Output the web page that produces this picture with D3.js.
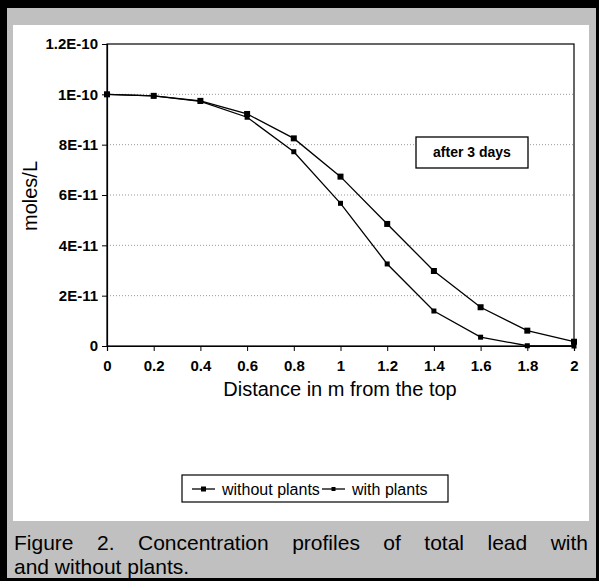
<!DOCTYPE html>
<html>
<head>
<meta charset="utf-8">
<script src="https://cdn.jsdelivr.net/npm/d3@7"></script>
<style>
  body { margin: 0; background: #fff; }
  text { font-family: "Liberation Sans", Arial, sans-serif; }
</style>
</head>
<body>
<div id="chart"></div>
<script>
var distance = [0, 0.2, 0.4, 0.6, 0.8, 1.0, 1.2, 1.4, 1.6, 1.8, 2.0]
var withoutPlants = [1.0e-10, 0.994e-10, 0.974e-10, 0.922e-10, 0.825e-10, 0.673e-10, 0.485e-10, 0.298e-10, 0.154e-10, 0.061e-10, 0.017e-10]
var withPlants = [1.0e-10, 0.994e-10, 0.972e-10, 0.909e-10, 0.772e-10, 0.567e-10, 0.326e-10, 0.139e-10, 0.035e-10, 0.001e-10, 0.0]
var yTicks = [0, 2e-11, 4e-11, 6e-11, 8e-11, 1e-10, 1.2e-10]
var yTickLabels = ["0", "2E-11", "4E-11", "6E-11", "8E-11", "1E-10", "1.2E-10"]
var xTicks = [0, 0.2, 0.4, 0.6, 0.8, 1, 1.2, 1.4, 1.6, 1.8, 2]
var seriesNames = ["without plants", "with plants"]
var captionLines = ["Figure 2. Concentration profiles of total lead with", "and without plants."]

var width = 599, height = 581
var svg = d3.select("#chart").append("svg")
  .attr("width", width).attr("height", height)

// frame: black edge, grey band, white chart area
svg.append("rect").attr("width", width).attr("height", height).attr("fill", "#000")
svg.append("rect").attr("x", 7).attr("y", 8).attr("width", 589).attr("height", 570).attr("fill", "#c0c0c0")
svg.append("rect").attr("x", 13).attr("y", 25).attr("width", 576).attr("height", 496).attr("fill", "#fff")

var x = d3.scaleLinear().domain([0, 2]).range([107, 574])
var y = d3.scaleLinear().domain([0, 1.2e-10]).range([346, 44])

// gridlines
svg.append("g").selectAll("line")
  .data(yTicks.slice(1, -1))
  .enter().append("line")
    .attr("x1", x(0)).attr("x2", x(2))
    .attr("y1", function (d) { return y(d) }).attr("y2", function (d) { return y(d) })
    .attr("stroke", "#999").attr("stroke-width", 1)
    .attr("stroke-dasharray", "1,2")

// plot border
svg.append("rect")
  .attr("x", x(0)).attr("y", y(1.2e-10))
  .attr("width", x(2) - x(0)).attr("height", y(0) - y(1.2e-10))
  .attr("fill", "none").attr("stroke", "#000").attr("stroke-width", 1.2)

var yAxis = d3.axisLeft(y).tickValues(yTicks).tickSize(5).tickPadding(4)
  .tickFormat(function (d, i) { return yTickLabels[i] })
var gy = svg.append("g").attr("transform", "translate(" + x(0) + ",0)").call(yAxis)
gy.select(".domain").attr("stroke", "#000").attr("stroke-width", 1.2)
gy.selectAll("text").attr("font-size", 15).attr("font-weight", "bold").attr("fill", "#000")
  .style("font-family", '"Liberation Sans", Arial, sans-serif')

var xAxis = d3.axisBottom(x).tickValues(xTicks).tickSize(5).tickPadding(9)
  .tickFormat(function (d) { return d3.format("~g")(d) })
var gx = svg.append("g").attr("transform", "translate(0," + y(0) + ")").call(xAxis)
gx.select(".domain").attr("stroke", "#000").attr("stroke-width", 1.2)
gx.selectAll("text").attr("font-size", 15).attr("font-weight", "bold").attr("fill", "#000")
  .style("font-family", '"Liberation Sans", Arial, sans-serif')

// axis titles
svg.append("text")
  .attr("x", 340).attr("y", 396)
  .attr("text-anchor", "middle").attr("font-size", 20)
  .text("Distance in m from the top")
svg.append("text")
  .attr("transform", "translate(37,196) rotate(-90)")
  .attr("text-anchor", "middle").attr("font-size", 20)
  .text("moles/L")

// series lines and markers
var series = [withoutPlants, withPlants]
var line = d3.line()
  .x(function (d, i) { return x(distance[i]) })
  .y(function (d) { return y(d) })
series.forEach(function (values, s) {
  svg.append("path")
    .datum(values)
    .attr("d", line)
    .attr("fill", "none").attr("stroke", "#000").attr("stroke-width", 1.3)
  var size = s === 0 ? 6 : 5
  svg.append("g").selectAll("rect")
    .data(values)
    .enter().append("rect")
      .attr("x", function (d, i) { return x(distance[i]) - size / 2 })
      .attr("y", function (d) { return y(d) - size / 2 })
      .attr("width", size).attr("height", size)
      .attr("fill", "#000")
})

// "after 3 days" box
svg.append("rect")
  .attr("x", 416).attr("y", 137).attr("width", 112).attr("height", 31)
  .attr("fill", "#fff").attr("stroke", "#000").attr("stroke-width", 1.3)
svg.append("text")
  .attr("x", 472).attr("y", 157)
  .attr("text-anchor", "middle").attr("font-size", 14).attr("font-weight", "bold")
  .text("after 3 days")

// legend
var legend = svg.append("g")
legend.append("rect")
  .attr("x", 182).attr("y", 475).attr("width", 266).attr("height", 27)
  .attr("fill", "#fff").attr("stroke", "#000").attr("stroke-width", 1.2)
var legendX = [192, 322]
seriesNames.forEach(function (name, s) {
  var lx = legendX[s]
  legend.append("line")
    .attr("x1", lx).attr("x2", lx + 23).attr("y1", 489).attr("y2", 489)
    .attr("stroke", "#000").attr("stroke-width", 1.3)
  var size = s === 0 ? 5 : 4
  legend.append("rect")
    .attr("x", lx + 11.5 - size / 2).attr("y", 489 - size / 2)
    .attr("width", size).attr("height", size).attr("fill", "#000")
  legend.append("text")
    .attr("x", lx + 30).attr("y", 495)
    .attr("font-size", 16)
    .text(name)
})

// caption, first line justified across the band
var caption = svg.append("g")
captionLines.forEach(function (txt, i) {
  var t = caption.append("text")
    .attr("x", 14).attr("y", 550 + i * 24)
    .attr("font-size", 21).attr("fill", "#000")
    .text(txt)
  if (i === 0) {
    var natural = t.node().getComputedTextLength()
    var gaps = txt.split(" ").length - 1
    t.attr("word-spacing", (574 - natural) / gaps)
  }
})
</script>
</body>
</html>
